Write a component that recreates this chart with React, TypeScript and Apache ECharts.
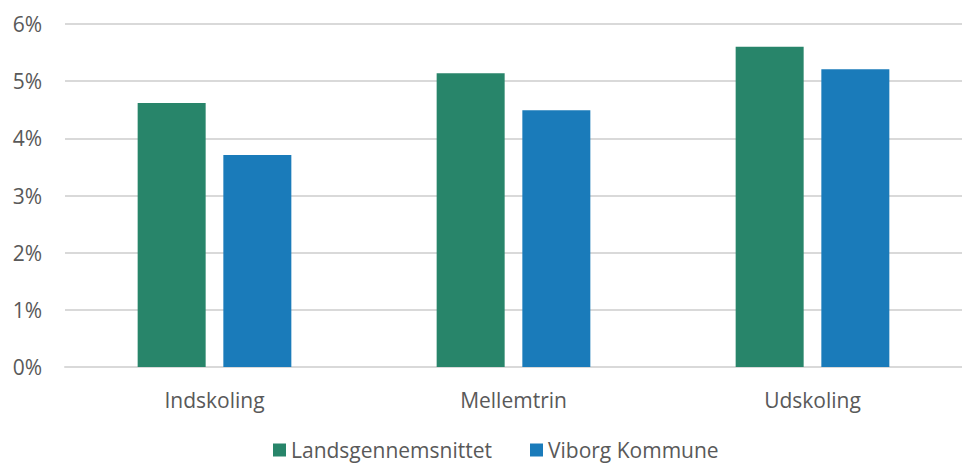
import React, { useEffect, useRef } from "react";
import * as echarts from "echarts";

const categories = ["Indskoling", "Mellemtrin", "Udskoling"];
const landsgennemsnittet = [4.62, 5.14, 5.6];
const viborgKommune = [3.71, 4.49, 5.21];
const seriesNames = ["Landsgennemsnittet", "Viborg Kommune"];

export default function App() {
  const ref = useRef<HTMLDivElement>(null);
  useEffect(() => {
    if (!ref.current) return;
    const chart = echarts.init(ref.current, null, { renderer: "svg" });
    const font = "'Open Sans', sans-serif";
    chart.setOption({
      animation: false,
      grid: { left: 65, width: 908, top: 24, bottom: 97, containLabel: false },
      legend: {
        top: 439,
        left: 273,
        padding: 0,
        itemWidth: 13,
        itemHeight: 13,
        itemGap: 38,
        icon: "rect",
        textStyle: { fontFamily: font, fontSize: 21, lineHeight: 22, color: "#595959" },
        data: seriesNames,
      },
      xAxis: {
        type: "category",
        data: categories,
        axisLine: { lineStyle: { color: "#d9d9d9", width: 2 } },
        axisTick: { show: false },
        axisLabel: { fontFamily: font, fontSize: 21, color: "#595959", margin: 22 },
      },
      yAxis: {
        type: "value",
        min: 0,
        max: 6,
        interval: 1,
        axisLine: { show: false },
        axisTick: { show: false },
        splitLine: { lineStyle: { color: "#d9d9d9", width: 2 } },
        axisLabel: {
          fontFamily: font,
          fontSize: 21,
          color: "#595959",
          margin: 23,
          formatter: (v: number) => `${v}%`,
        },
      },
      series: [
        {
          name: seriesNames[0],
          type: "bar",
          data: landsgennemsnittet,
          barWidth: 68,
          barGap: "26%",
          itemStyle: { color: "#28856a" },
        },
        {
          name: seriesNames[1],
          type: "bar",
          data: viborgKommune,
          barWidth: 68,
          itemStyle: { color: "#1a7bba" },
        },
      ],
    });
    return () => chart.dispose();
  }, []);
  return (
    <div
      ref={ref}
      style={{ position: "absolute", left: 0, top: 0, width: 962, height: 464, overflow: "hidden" }}
    />
  );
}
